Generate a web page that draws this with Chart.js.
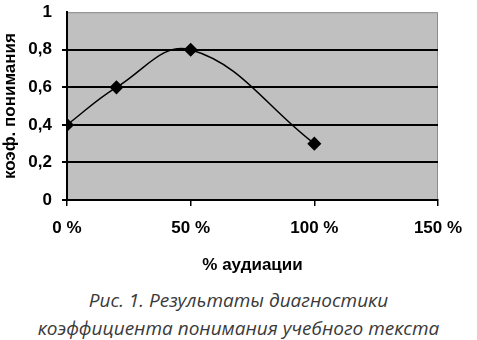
<!DOCTYPE html>
<html>
<head>
<meta charset="utf-8">
<script src="https://cdn.jsdelivr.net/npm/chart.js@4"></script>
<style>
  html, body { margin: 0; padding: 0; background: #fff; }
  #wrap { width: 477px; height: 288px; position: relative; margin-top: -8px; }
  .cap { font-family: "Open Sans", sans-serif; font-style: italic; font-size: 19px;
         color: #3a3a3a; text-align: center; width: 477px; line-height: 28px; }
</style>
</head>
<body>
<div id="wrap"><canvas id="chart1"></canvas></div>
<div class="cap" style="margin-top:6px">Рис. 1. Результаты диагностики</div>
<div class="cap">коэффициента понимания учебного текста</div>
<script>
// data
const audiation = [0, 20, 50, 100];
const understanding = [0.4, 0.6, 0.8, 0.3];

const plotBg = {
    id: 'plotBg',
    beforeDraw(chart) {
        const a = chart.chartArea, c = chart.ctx;
        c.save();
        c.fillStyle = '#c0c0c0';
        c.fillRect(a.left, a.top, a.right - a.left, a.bottom - a.top);
        c.strokeStyle = '#8a8a8a';
        c.lineWidth = 1;
        c.beginPath();
        c.moveTo(a.left, a.top + 0.5);
        c.lineTo(a.right - 0.5, a.top + 0.5);
        c.lineTo(a.right - 0.5, a.bottom);
        c.stroke();
        c.restore();
    }
};

document.addEventListener("DOMContentLoaded", function() {
    const ctx1 = document.getElementById('chart1').getContext('2d');
    new Chart(ctx1, {
        type: 'line',
        data: {
            datasets: [{
                data: audiation.map((x, i) => ({x: x, y: understanding[i]})),
                borderColor: '#000',
                borderWidth: 1.5,
                tension: 0.4,
                pointStyle: 'rectRot',
                pointRadius: 6,
                pointBackgroundColor: '#000',
                pointBorderColor: '#000'
            }]
        },
        plugins: [plotBg],
        options: {
            responsive: true,
            maintainAspectRatio: false,
            animation: false,
            layout: { padding: { top: 3, right: 39, left: 0, bottom: 0 } },
            plugins: { legend: { display: false }, tooltip: { enabled: false } },
            scales: {
                x: {
                    type: 'linear',
                    min: 0, max: 150,
                    ticks: {
                        stepSize: 50,
                        color: '#000',
                        padding: 12,
                        font: { family: 'Liberation Sans', size: 17, weight: 'bold' },
                        callback: v => v + ' %'
                    },
                    grid: { drawOnChartArea: false, color: '#000', lineWidth: 1.5, tickLength: 6 },
                    border: { color: '#000', width: 2 },
                    title: {
                        display: true, text: '% аудиации', color: '#000',
                        padding: { top: 10 },
                        font: { family: 'Liberation Sans', size: 17, weight: 'bold' }
                    },
                    afterFit: s => { s.height = 80; }
                },
                y: {
                    min: 0, max: 1,
                    ticks: {
                        stepSize: 0.2,
                        color: '#000',
                        padding: 10,
                        font: { family: 'Liberation Sans', size: 17, weight: 'bold' },
                        callback: v => String(Math.round(v * 10) / 10).replace('.', ',')
                    },
                    grid: {
                        color: c => (c.tick && c.tick.value === 1) ? 'rgba(0,0,0,0)' : '#000',
                        lineWidth: 2,
                        tickLength: 5
                    },
                    border: { color: '#000', width: 2 },
                    title: {
                        display: true, text: 'коэф. понимания', color: '#000',
                        padding: { top: 0, bottom: 2 },
                        font: { family: 'Liberation Sans', size: 17, weight: 'bold' }
                    },
                    afterFit: s => { s.width = 67; }
                }
            }
        }
    });
});
</script>
</body>
</html>
